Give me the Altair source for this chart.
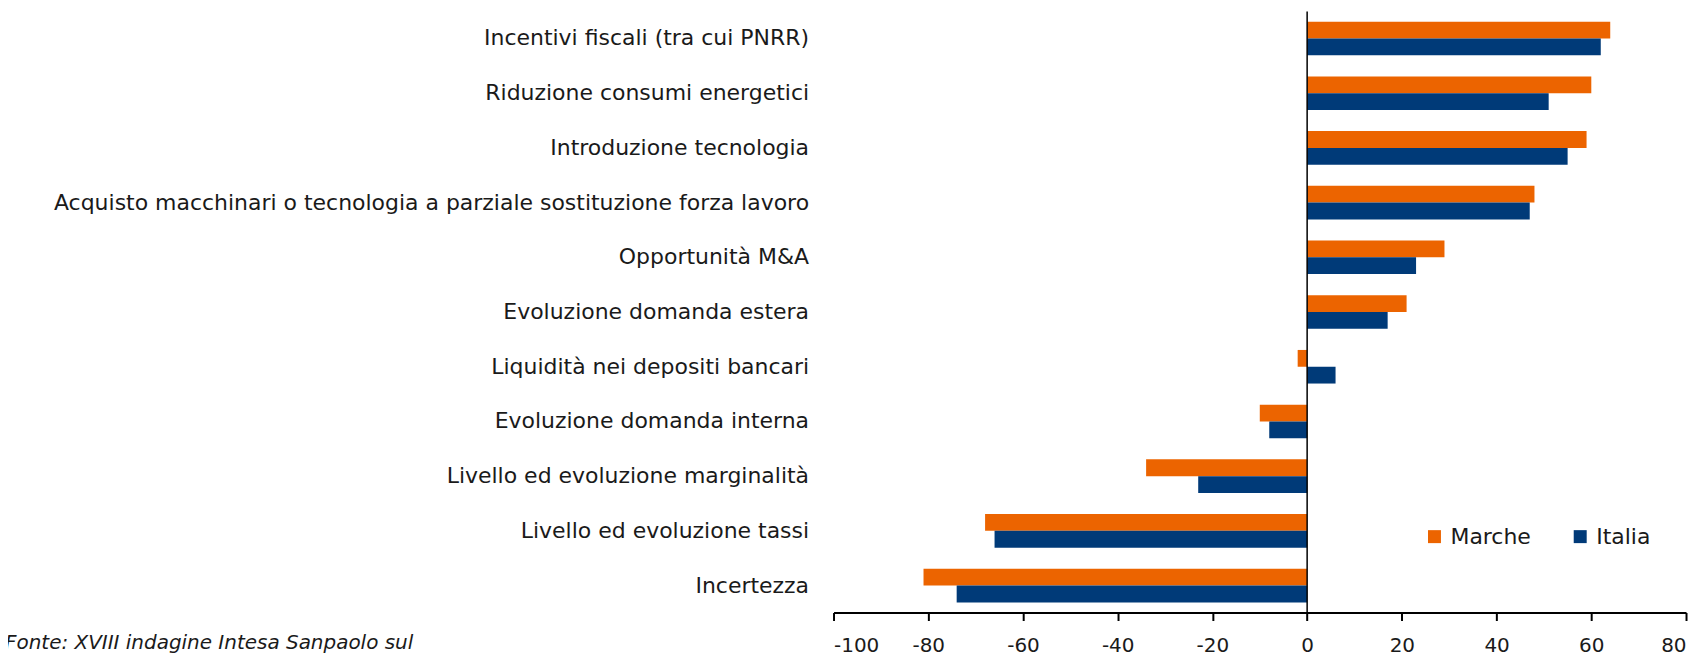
import altair as alt
import pandas as pd

FONT = "DejaVu Sans"
TEXT_COLOR = "#1a1a1a"

categories = [
    "Incentivi fiscali (tra cui PNRR)",
    "Riduzione consumi energetici",
    "Introduzione tecnologia",
    "Acquisto macchinari o tecnologia a parziale sostituzione forza lavoro",
    "Opportunità M&A",
    "Evoluzione domanda estera",
    "Liquidità nei depositi bancari",
    "Evoluzione domanda interna",
    "Livello ed evoluzione marginalità",
    "Livello ed evoluzione tassi",
    "Incertezza",
]
marche = [64, 60, 59, 48, 29, 21, -2, -10, -34, -68, -81]
italia = [62, 51, 55, 47, 23, 17, 6, -8, -23, -66, -74]
series = ["Marche", "Italia"]
colors = ["#EC6400", "#003A78"]
x_ticks = [-100, -80, -60, -40, -20, 0, 20, 40, 60, 80]
x_domain = [-100, 80]
source_note = ["Fonte: XVIII indagine Intesa Sanpaolo sul"]

rows = []
for c, m, i in zip(categories, marche, italia):
    rows.append({"cat": c, "serie": "Marche", "val": m})
    rows.append({"cat": c, "serie": "Italia", "val": i})
df = pd.DataFrame(rows)

W, H = 854, 602

bars = alt.Chart(df).mark_bar().encode(
    y=alt.Y(
        "cat:N",
        sort=categories,
        scale=alt.Scale(paddingInner=0.386, paddingOuter=0.185),
        axis=alt.Axis(
            title=None, domain=False, ticks=False, labelPadding=25,
            labelFontSize=22, labelFont=FONT, labelColor=TEXT_COLOR,
            labelLimit=1200,
        ),
    ),
    yOffset=alt.YOffset("serie:N", sort=series,
                        scale=alt.Scale(paddingInner=0, paddingOuter=0)),
    x=alt.X(
        "val:Q",
        scale=alt.Scale(domain=x_domain, nice=False, zero=False),
        axis=alt.Axis(
            values=x_ticks, title=None, grid=False,
            domainColor="black", domainWidth=2,
            tickColor="black", tickWidth=2, tickSize=8,
            labelFontSize=20, labelPadding=15, labelColor=TEXT_COLOR,
            labelFont=FONT, labelExpr="'' + datum.value",
        ),
    ),
    color=alt.Color(
        "serie:N",
        sort=series,
        scale=alt.Scale(domain=series, range=colors),
        legend=alt.Legend(
            title=None, orient="none", legendX=591, legendY=515,
            direction="horizontal", symbolType="square", symbolSize=169,
            symbolStrokeWidth=0, labelFontSize=22, labelFont=FONT,
            labelColor=TEXT_COLOR, labelOffset=5, columnPadding=38,
            padding=0,
        ),
    ),
)

zero = pd.DataFrame({"v": [0]})
rule = alt.Chart(zero).mark_rule(color="black", strokeWidth=1.5).encode(
    x=alt.X("v:Q")
)

note = alt.Chart(pd.DataFrame({"t": source_note})).mark_text(
    align="left", baseline="alphabetic", fontStyle="italic",
    fontSize=20, font=FONT, color=TEXT_COLOR,
).encode(text="t:N", x=alt.value(-830), y=alt.value(639))

chart = alt.layer(bars, rule, note).properties(
    width=W,
    height=H,
    autosize=alt.AutoSizeParams(type="none"),
    padding={"left": 827, "top": 3, "right": 10, "bottom": 43},
).configure_view(stroke=None)

chart.save("out.html", embed_options={"renderer": "svg", "actions": False})
